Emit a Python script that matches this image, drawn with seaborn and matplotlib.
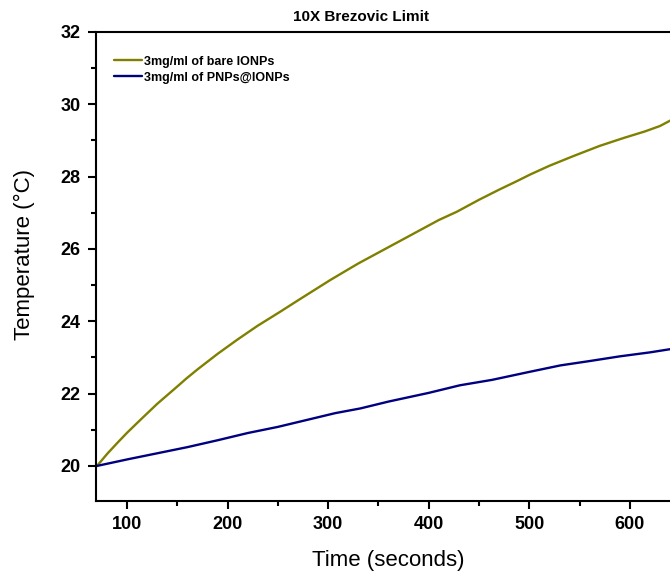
import numpy as np
import pandas as pd
import matplotlib
matplotlib.use("Agg")
import matplotlib.pyplot as plt
from matplotlib.ticker import MultipleLocator
import seaborn as sns

# Heating curves under the 10X Brezovic limit field
time_bare = [70, 80, 90, 100, 113, 130, 150, 159, 170, 190, 202, 210, 230, 252,
             270, 290, 302, 319, 330, 352, 368, 390, 410, 428, 450, 470, 488,
             501, 520, 544, 570, 594, 615, 630, 645]
temp_bare = [20.00, 20.33, 20.63, 20.92, 21.27, 21.72, 22.20, 22.42, 22.67,
             23.10, 23.34, 23.50, 23.88, 24.26, 24.58, 24.93, 25.14, 25.42,
             25.60, 25.93, 26.17, 26.50, 26.80, 27.03, 27.36, 27.64, 27.88,
             28.06, 28.30, 28.57, 28.85, 29.07, 29.25, 29.40, 29.62]

time_pnp = [70, 100, 130, 160, 190, 220, 250, 280, 307, 332, 360, 400, 431,
            463, 500, 531, 560, 590, 620, 645]
temp_pnp = [20.00, 20.18, 20.35, 20.52, 20.71, 20.91, 21.08, 21.28, 21.46,
            21.59, 21.78, 22.02, 22.23, 22.38, 22.60, 22.78, 22.90, 23.03,
            23.14, 23.25]

series_names = ["3mg/ml of bare IONPs", "3mg/ml of PNPs@IONPs"]
series_colors = ["#808000", "#000080"]

df = pd.concat([
    pd.DataFrame({"Time": time_bare, "Temp": temp_bare, "Sample": series_names[0]}),
    pd.DataFrame({"Time": time_pnp, "Temp": temp_pnp, "Sample": series_names[1]}),
], ignore_index=True)

sns.set_theme(style="ticks")
plt.rcParams["font.family"] = ["Liberation Sans", "DejaVu Sans"]
plt.rcParams.update({
    "text.color": "black",
    "axes.labelcolor": "black",
    "xtick.color": "black",
    "ytick.color": "black",
    "xtick.labelcolor": "black",
    "ytick.labelcolor": "black",
})

fig = plt.figure(figsize=(6.7, 5.75), dpi=100)
ax = fig.add_axes([96 / 670, 1 - 501 / 575, 574 / 670, (501 - 32) / 575])

sns.lineplot(data=df, x="Time", y="Temp", hue="Sample", hue_order=series_names,
             palette=series_colors, linewidth=1.7, ax=ax, sort=False,
             estimator=None)

ax.set_xlim(69, 640)
ax.set_ylim(19.03, 32)
ax.xaxis.set_major_locator(MultipleLocator(100))
ax.xaxis.set_minor_locator(MultipleLocator(50))
ax.yaxis.set_major_locator(MultipleLocator(2))
ax.yaxis.set_minor_locator(MultipleLocator(1))

for side in ["left", "bottom", "top"]:
    ax.spines[side].set_linewidth(1.5)
    ax.spines[side].set_color("black")
ax.spines["right"].set_visible(False)

ax.tick_params(axis="both", which="major", direction="out", length=6,
               width=1.5, color="black", labelsize=13, pad=5,
               labelcolor="black")
ax.tick_params(axis="both", which="minor", direction="out", length=3.5,
               width=1.5, color="black")
for lab in ax.get_xticklabels() + ax.get_yticklabels():
    lab.set_fontweight("bold")

ax.set_xlabel("Time (seconds)", fontsize=16, color="black")
ax.set_ylabel("Temperature (°C)", fontsize=16, color="black")
ax.xaxis.set_label_coords((388 - 96) / 574, -0.105)
ax.yaxis.set_label_coords((35 - 96) / 574, (501 - 254) / 469)

fig.text(361 / 670, 1 - 17 / 575, "10X Brezovic Limit", ha="center",
         va="center", fontsize=11, fontweight="bold", color="black")

leg = ax.legend(loc="upper left", frameon=False,
                prop={"size": 9, "weight": "bold"},
                handlelength=2.3, handletextpad=0.15, labelspacing=0.3,
                borderaxespad=0.0, bbox_to_anchor=(0.022, 0.96))
for t in leg.get_texts():
    t.set_color("black")

fig.savefig("out.png", dpi=100)
